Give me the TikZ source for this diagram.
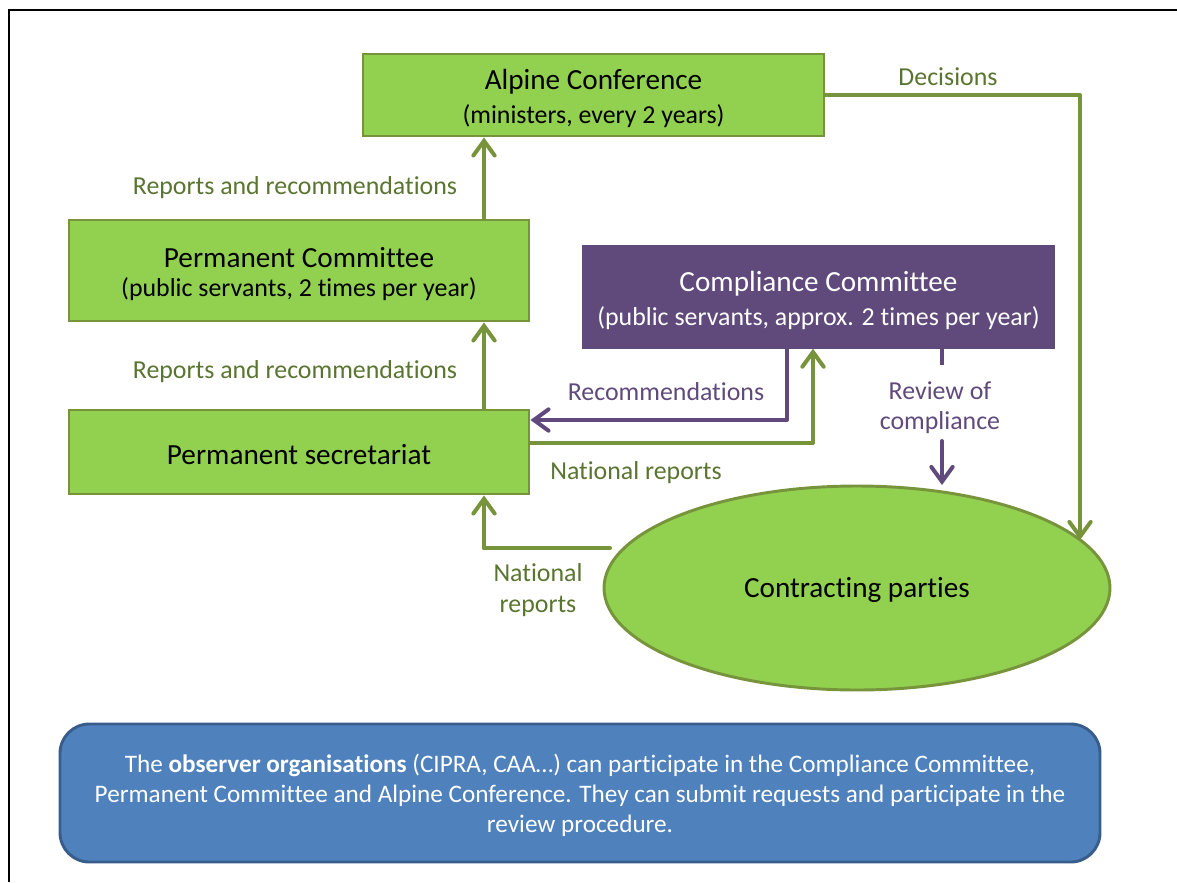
\documentclass[tikz,border=0pt]{standalone}
\usepackage{fontspec}
\setmainfont[Ligatures=NoCommon]{Carlito}
\usetikzlibrary{arrows.meta,shapes.geometric,calc}
\definecolor{boxgreen}{HTML}{92D050}
\definecolor{edgegreen}{HTML}{77933C}
\definecolor{labgreen}{HTML}{5A7531}
\definecolor{purp}{HTML}{604A7B}
\definecolor{bluefill}{HTML}{4F81BD}
\definecolor{blueedge}{HTML}{385D8A}
\newcommand\bigf{\fontsize{21.9}{26}\selectfont}
\newcommand\smf{\fontsize{19.4}{24.75}\selectfont}
\newcommand\blf{\fontsize{18.9}{23}\selectfont}
\tikzset{
  gbox/.style={draw=edgegreen, fill=boxgreen, line width=2.2pt, inner sep=0pt, align=center, text=black},
  pbox/.style={draw=purp, fill=purp, line width=1pt, inner sep=0pt, align=center, text=white},
  garrow/.style={draw=edgegreen, line width=3pt, line cap=round, line join=round, -{Straight Barb[length=11pt,width=16pt,line cap=round]}},
  gline/.style={draw=edgegreen, line width=3pt, line cap=round, line join=round},
  parrow/.style={draw=purp, line width=3pt, line cap=round, line join=round, -{Straight Barb[length=11pt,width=16pt,line cap=round]}},
  glab/.style={text=labgreen, font=\smf, align=center, inner sep=1pt},
  plab/.style={text=purp, font=\smf, align=center, inner sep=1pt},
}
\begin{document}
\begin{tikzpicture}[x=0.75pt, y=-0.75pt]
\useasboundingbox (0,0) rectangle (1177,882);
\fill[white] (0,0) rectangle (1177,882);
% frame
\draw[line width=1.6pt] (9,882) -- (9,10) -- (1177,10);

% nodes
\node[gbox, minimum width=461*0.75pt, minimum height=82*0.75pt] (ac) at (593.5,95)
  {\rule{0pt}{20pt}\bigf Alpine Conference\\[6.5pt]\smf (ministers, every 2 years)};
\node[gbox, minimum width=460*0.75pt, minimum height=101*0.75pt] (pc) at (299,270.5)
  {\rule{0pt}{20pt}\bigf Permanent Committee\\[6.5pt]\smf (public servants, 2 times per year)};
\node[pbox, minimum width=471*0.75pt, minimum height=102*0.75pt] (cc) at (818.5,297)
  {\rule{0pt}{20.5pt}\bigf Compliance Committee\\[6.5pt]\smf (public servants, approx. 2 times per year)};
\node[gbox, minimum width=460*0.75pt, minimum height=84*0.75pt] (ps) at (299,452)
  {\rule{0pt}{19pt}\bigf Permanent secretariat};
\node[gbox, ellipse, minimum width=506*0.75pt, minimum height=204*0.75pt] (cp) at (857,588)
  {\rule{0pt}{17.5pt}\bigf Contracting parties};
\node[draw=blueedge, fill=bluefill, line width=2.2pt, rounded corners=22pt,
      minimum width=1040*0.75pt, minimum height=138*0.75pt, inner sep=0pt,
      align=center, text=white, font=\blf] (ob) at (580,793)
  {\rule{0pt}{17pt}The \textbf{observer organisations} (CIPRA, CAA\ldots) can participate in the Compliance Committee,\\[-0.3pt]
   Permanent Committee and Alpine Conference. They can submit requests and participate in the\\[-0.3pt]
   review procedure.};

% helper coordinates
\coordinate (xa) at (484,0);
\coordinate (dR) at (1080,95);
\coordinate (dE) at (1080,540);
\coordinate (xr) at (787,420);
\coordinate (xn) at (813,443);
\coordinate (xv) at (942,0);
\coordinate (vE) at (942,485);
\coordinate (nS) at (610,548);
\coordinate (nC) at (484,548);

% connectors
\draw[garrow] (xa |- pc.north) -- (xa |- ac.south);
\draw[garrow] (xa |- ps.north) -- (xa |- pc.south);
\draw[garrow] (ac.east) -- (dR) -- (dE);
\draw[parrow] (xr |- cc.south) -- (xr) -- (xr -| ps.east);
\draw[garrow] (xn -| ps.east) -- (xn) -- (xn |- cc.south);
\draw[gline] (nS) -- (nC);
\draw[garrow] (nC) -- (nC |- ps.south);
\draw[draw=purp, line width=3pt] (xv |- cc.south) -- (942,365);
\draw[parrow] (942,441) -- (vE);

% labels
\node[glab] (l1) at (295,188) {Reports and recommendations};
\node[glab] (l2) at (295,372) {Reports and recommendations};
\node[glab] (l3) at (948,77) {Decisions};
\node[plab] (l4) at (666,392) {Recommendations};
\node[glab] (l5) at (636,473) {National reports};
\node[plab] (l6) at (940,407.5) {Review of\\[-1.8pt]compliance};
\node[glab] (l7) at (538,590) {National\\[-1.8pt]reports};
\end{tikzpicture}
\end{document}
